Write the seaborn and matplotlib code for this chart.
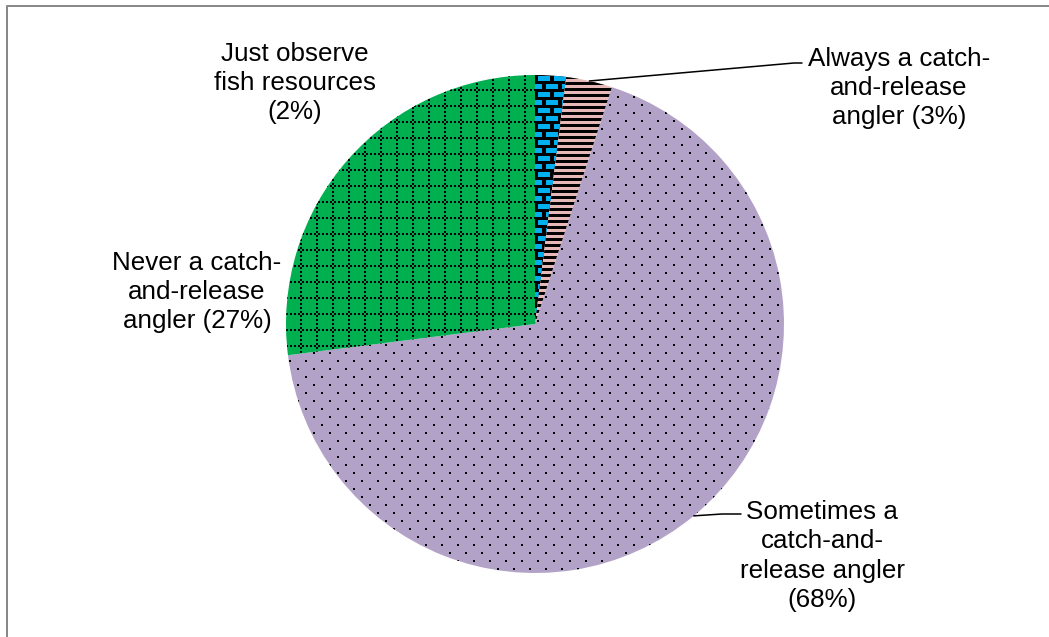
import numpy as np
import matplotlib
matplotlib.use("Agg")
import matplotlib.pyplot as plt
from matplotlib.patches import Rectangle
from matplotlib.collections import LineCollection, PatchCollection
import seaborn as sns

# Survey answers, clockwise from 12 o'clock
label_heads = ["Just observe\nfish resources", "Always a catch-\nand-release\nangler",
               "Sometimes a\ncatch-and-\nrelease angler\n", "Never a catch-\nand-release\nangler"]
shares = [2, 3, 68, 27]
slice_colors = ["#00B0F0", "#E6B9B8", "#B3A2C7", "#00B050"]

sns.set_style("white")
plt.rcParams["font.family"] = ["Liberation Sans", "DejaVu Sans"]

W, H = 1049, 637
fig = plt.figure(figsize=(W / 100, H / 100), dpi=100)
ax = fig.add_axes([0, 0, 1, 1])

cx, cy, r = 535, H - 324, 249
palette = sns.color_palette(slice_colors)
wedges, _ = ax.pie(shares, colors=palette, startangle=90, counterclock=False,
                   center=(cx, cy), radius=r, wedgeprops=dict(linewidth=0))
ax.set_xlim(0, W)
ax.set_ylim(0, H)
ax.set_aspect("auto")
ax.axis("off")

x0, x1, y0, y1 = cx - r - 20, cx + r + 20, cy - r - 20, cy + r + 20
PT = 0.72  # points per pixel at 100 dpi

# Bricks: black mortar with cyan bricks
wedges[0].set_facecolor("black")
bricks = []
for j, yy in enumerate(np.arange(y0, y1, 8)):
    off = 0 if j % 2 == 0 else 8
    for xx in np.arange(x0 - 16 + off, x1, 16):
        bricks.append(Rectangle((xx, yy), 12, 5))
pc = PatchCollection(bricks, facecolor=slice_colors[0], edgecolor="none")
ax.add_collection(pc)
pc.set_clip_path(wedges[0])

# Wide horizontal stripes
stripes = [[(x0, yy), (x1, yy)] for yy in np.arange(y0, y1, 6)]
lc = LineCollection(stripes, colors="black", linewidths=3 * PT)
ax.add_collection(lc)
lc.set_clip_path(wedges[1])

# Staggered small dots
dx, dy = [], []
for j, yy in enumerate(np.arange(y0, y1, 8)):
    off = 0 if j % 2 == 0 else 8
    for xx in np.arange(x0 + off, x1, 16):
        dx.append(xx)
        dy.append(yy)
sc = ax.scatter(dx, dy, marker="s", s=(2 * PT) ** 2, c="black", linewidths=0)
sc.set_clip_path(wedges[2])

# Dotted grid
grid = [[(xx, y0), (xx, y1)] for xx in np.arange(x0 + 3, x1, 16)]
grid += [[(x0, yy), (x1, yy)] for yy in np.arange(y0 + 7, y1, 16)]
gc = LineCollection(grid, colors="black", linewidths=2 * PT, linestyles=[(0, (1, 1))])
ax.add_collection(gc)
gc.set_clip_path(wedges[3])


def edge_point(w):
    mid = np.deg2rad((w.theta1 + w.theta2) / 2)
    return cx + r * np.cos(mid), cy + r * np.sin(mid)


# Labels
fs = 18.7
label_pos = [(295, 83), (899, 88), (822, 556), (197, 292)]
for head, v, (lx, ly) in zip(label_heads, shares, label_pos):
    sep = "" if head.endswith("\n") else (" " if head.endswith("angler") else "\n")
    ax.text(lx, H - ly, f"{head}{sep}({v}%)", ha="center", va="center",
            multialignment="center", fontsize=fs, linespacing=1.28, color="black")

# Leader lines
px, py = edge_point(wedges[1])
ax.plot([px, 794, 802], [py, H - 63, H - 63], color="black", lw=1.1)
px, py = edge_point(wedges[2])
ax.plot([px, 722, 741], [py, H - 514, H - 514], color="black", lw=1.1)

# Chart area border
ax.plot([7, 7, W + 10], [-10, H - 6, H - 6], color="#898989", lw=2 * PT,
        clip_on=False, solid_capstyle="projecting")

fig.savefig("out.png", dpi=100, facecolor="white")
